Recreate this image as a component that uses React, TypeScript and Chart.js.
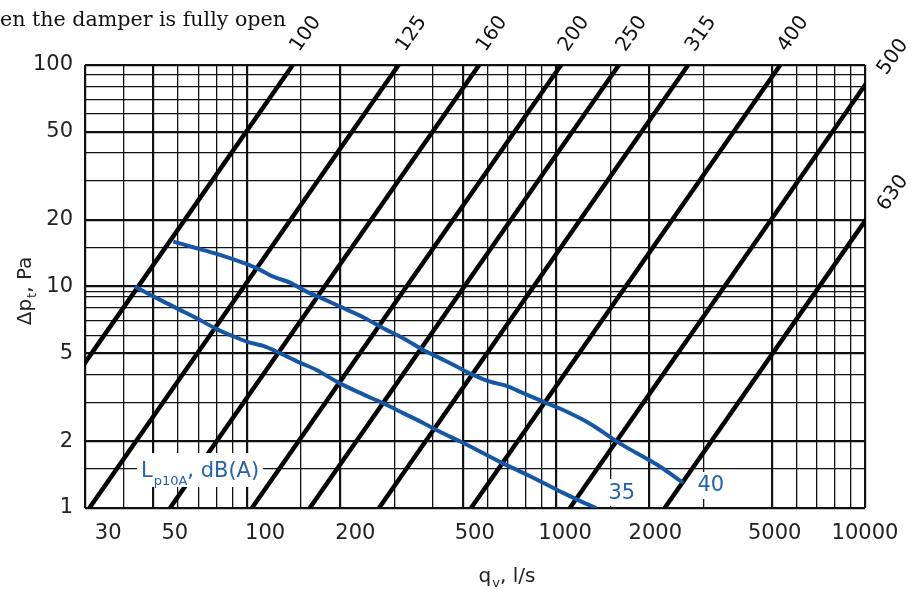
import React, { useEffect, useRef } from "react";
import { Chart, registerables } from "chart.js";

Chart.register(...registerables);

// ---------- data ----------
const DUCT_SIZES = ["100", "125", "160", "200", "250", "315", "400", "500", "630"];
const DUCT_FLOW_AT_1PA = [14.1, 31.0, 56.5, 104, 160, 268, 532, 1110, 2250];
const DUCT_FLOW_AT_100PA = [141, 310, 565, 1040, 1600, 2680, 5320, 11100, 22500];

const CURVE_35_FLOW = [43.5, 51.2, 60.9, 68.9, 80, 88.3, 100, 113.2, 128.1, 148.7, 168.4, 195.4, 226.8, 276.4, 320.8, 372.4, 421.7, 489.4, 568, 675, 784, 910, 1056, 1225, 1350];
const CURVE_35_DP = [10.0, 8.86, 7.84, 7.19, 6.42, 6.05, 5.64, 5.39, 5.0, 4.53, 4.2, 3.72, 3.36, 2.97, 2.68, 2.42, 2.21, 2.0, 1.8, 1.59, 1.44, 1.3, 1.17, 1.06, 1.0];

const CURVE_40_FLOW = [57.9, 68.9, 80, 95.1, 107.7, 121.9, 138, 156.3, 176.9, 200.3, 238.2, 276.4, 320.8, 372.4, 421.7, 477.6, 540, 612, 693, 784, 910, 1056, 1225, 1388, 1571, 1824, 2169, 2580];
const CURVE_40_DP = [15.95, 14.89, 14.03, 12.95, 12.1, 11.08, 10.41, 9.48, 8.79, 8.12, 7.27, 6.48, 5.84, 5.17, 4.75, 4.35, 3.99, 3.72, 3.56, 3.3, 3.02, 2.77, 2.5, 2.25, 2.0, 1.77, 1.54, 1.3];

const LEVEL_LABELS = ["35", "40"];
const LEVEL_LABEL_FLOW = [1635, 3170];
const LEVEL_LABEL_DP = [1.18, 1.27];

const X_GRID = [30, 40, 50, 60, 70, 80, 90, 100, 150, 200, 300, 400, 500, 600, 700, 800, 900, 1000, 1500, 2000, 3000, 5000, 6000, 7000, 8000, 9000, 10000];
const X_MAJOR = [30, 50, 100, 200, 500, 1000, 2000, 5000, 10000];
const X_TICK_LABELS = ["30", "50", "100", "200", "500", "1000", "2000", "5000", "10000"];

const Y_GRID = [1, 1.5, 2, 3, 4, 5, 6, 7, 8, 9, 9.5, 10, 15, 20, 30, 40, 50, 60, 70, 80, 90, 100];
const Y_MAJOR = [1, 2, 5, 10, 20, 50, 100];
const Y_TICK_LABELS = ["1", "2", "5", "10", "20", "50", "100"];

// ---------- styles ----------
const BLUE = "#1557a6";
const BLUE_TEXT = "#2462b0";
const GRID = "#111";
const SANS = '"DejaVu Sans", sans-serif';
const TICK_FONT = { family: SANS, size: 21 };

const annotations = {
  id: "annotations",
  afterDatasetsDraw(chart: any) {
    const { ctx, scales } = chart;
    const x = scales.x;
    const y = scales.y;
    ctx.save();
    // level labels 35 / 40
    ctx.font = `21px ${SANS}`;
    ctx.textAlign = "center";
    ctx.textBaseline = "middle";
    LEVEL_LABELS.forEach((t, i) => {
      const px = x.getPixelForValue(LEVEL_LABEL_FLOW[i]);
      const py = y.getPixelForValue(LEVEL_LABEL_DP[i]);
      const w = ctx.measureText(t).width;
      ctx.fillStyle = "#fff";
      ctx.fillRect(px - w / 2 - 4, py - 13, w + 8, 27);
      ctx.fillStyle = BLUE_TEXT;
      ctx.fillText(t, px, py + 1);
    });
    // L_p10A, dB(A)
    const lx = x.getPixelForValue(45.5);
    const ly = y.getPixelForValue(1.5);
    ctx.textAlign = "left";
    ctx.textBaseline = "alphabetic";
    ctx.font = `21px ${SANS}`;
    const wL = ctx.measureText("L").width;
    const wRest = ctx.measureText(", dB(A)").width;
    ctx.font = `13px ${SANS}`;
    const wSub = ctx.measureText("p10A").width;
    const total = wL + 1 + wSub + wRest;
    ctx.fillStyle = "#fff";
    ctx.fillRect(lx - 4, ly - 16, total + 8, 34);
    ctx.fillStyle = BLUE_TEXT;
    ctx.font = `21px ${SANS}`;
    ctx.fillText("L", lx, ly + 8);
    ctx.fillText(", dB(A)", lx + wL + 1 + wSub, ly + 8);
    ctx.font = `13px ${SANS}`;
    ctx.fillText("p10A", lx + wL + 1, ly + 16);
    ctx.restore();
  },
  afterDraw(chart: any) {
    const { ctx, scales, chartArea } = chart;
    const x = scales.x;
    const y = scales.y;
    ctx.save();
    // duct size labels
    ctx.fillStyle = "#111";
    ctx.font = `20px ${SANS}`;
    ctx.textAlign = "center";
    ctx.textBaseline = "middle";
    DUCT_SIZES.forEach((label, i) => {
      const qTop = DUCT_FLOW_AT_100PA[i];
      let px: number, py: number, dx: number, dy: number;
      if (qTop <= x.max) {
        px = x.getPixelForValue(qTop);
        py = chartArea.top;
        dx = 13;
        dy = -31;
      } else {
        const slope = 2 / Math.log10(DUCT_FLOW_AT_100PA[i] / DUCT_FLOW_AT_1PA[i]);
        const dpAtMax = 100 * Math.pow(x.max / qTop, slope);
        px = chartArea.right;
        py = y.getPixelForValue(dpAtMax);
        dx = 28;
        dy = -28;
      }
      ctx.save();
      ctx.translate(px + dx, py + dy);
      ctx.rotate((-55 * Math.PI) / 180);
      ctx.fillText(label, 0, 0);
      ctx.restore();
    });

    // axis titles with subscripts
    ctx.fillStyle = "#222";
    ctx.textBaseline = "alphabetic";
    ctx.textAlign = "left";
    const drawSub = (main: string, sub: string, rest: string, cx: number, base: number) => {
      ctx.font = `20px ${SANS}`;
      const w1 = ctx.measureText(main).width;
      const w3 = ctx.measureText(rest).width;
      ctx.font = `13px ${SANS}`;
      const w2 = ctx.measureText(sub).width;
      const start = cx - (w1 + w2 + w3 + 1) / 2;
      ctx.font = `20px ${SANS}`;
      ctx.fillText(main, start, base);
      ctx.fillText(rest, start + w1 + 1 + w2, base);
      ctx.font = `13px ${SANS}`;
      ctx.fillText(sub, start + w1 + 1, base + 5);
    };
    ctx.save();
    ctx.translate(30.5, 291);
    ctx.rotate(-Math.PI / 2);
    drawSub("Δp", "t", ", Pa", 0, 0);
    ctx.restore();

    drawSub("q", "v", ", l/s", 507, 582);

    // clipped heading text
    ctx.fillStyle = "#111";
    ctx.font = '20.6px "DejaVu Serif", serif';
    ctx.textAlign = "left";
    ctx.fillText("en the damper is fully open", 0, 26);
    ctx.restore();
  },
};

export default function App() {
  const canvasRef = useRef<HTMLCanvasElement | null>(null);

  useEffect(() => {
    if (!canvasRef.current) return;
    const gridWidth = (major: number[]) => (c: any) =>
      c.tick && major.includes(c.tick.value) ? 2.2 : 1.3;

    const ductDatasets = DUCT_SIZES.map((size, i) => ({
      label: `Ø${size}`,
      data: [
        { x: DUCT_FLOW_AT_1PA[i], y: 1 },
        { x: DUCT_FLOW_AT_100PA[i], y: 100 },
      ],
      borderColor: "#000",
      borderWidth: 4.5,
      pointRadius: 0,
      clip: 0,
      order: 2,
    }));

    const chart = new Chart(canvasRef.current, {
      type: "line",
      data: {
        datasets: [
          {
            label: "35 dB(A)",
            data: CURVE_35_FLOW.map((q, i) => ({ x: q, y: CURVE_35_DP[i] })),
            borderColor: BLUE,
            borderWidth: 4,
            pointRadius: 0,
            tension: 0.3,
            clip: 0,
            order: 0,
          },
          {
            label: "40 dB(A)",
            data: CURVE_40_FLOW.map((q, i) => ({ x: q, y: CURVE_40_DP[i] })),
            borderColor: BLUE,
            borderWidth: 4,
            pointRadius: 0,
            tension: 0.3,
            clip: 0,
            order: 0,
          },
          ...ductDatasets,
        ],
      },
      options: {
        animation: false,
        responsive: true,
        maintainAspectRatio: false,
        events: [],
        layout: { padding: { top: 65, right: 47, left: 0, bottom: 0 } },
        plugins: { legend: { display: false }, tooltip: { enabled: false } },
        scales: {
          x: {
            type: "logarithmic",
            position: "bottom",
            min: 30,
            max: 10000,
            afterBuildTicks: (s: any) => {
              s.ticks = X_GRID.map((v) => ({ value: v }));
            },
            afterFit: (s: any) => {
              s.height = 0;
            },
            ticks: { display: false, autoSkip: false },
            grid: { color: GRID, lineWidth: gridWidth(X_MAJOR), drawTicks: false },
            border: { display: false },
          },
          xLabels: {
            type: "logarithmic",
            position: "bottom",
            min: 25.1,
            max: 10000,
            afterBuildTicks: (s: any) => {
              s.ticks = X_MAJOR.map((v) => ({ value: v }));
            },
            afterFit: (s: any) => {
              s.height = 82;
            },
            ticks: {
              autoSkip: false,
              maxRotation: 0,
              padding: 13,
              color: "#222",
              font: TICK_FONT,
              callback: (v: any) => X_TICK_LABELS[X_MAJOR.indexOf(Number(v))] ?? "",
            },
            grid: { display: false, drawTicks: false },
            border: { display: false },
          },
          y: {
            type: "logarithmic",
            min: 1,
            max: 100,
            afterBuildTicks: (s: any) => {
              s.ticks = Y_GRID.map((v) => ({ value: v }));
            },
            afterFit: (s: any) => {
              s.width = 85;
            },
            ticks: {
              autoSkip: false,
              padding: 12,
              color: "#222",
              font: TICK_FONT,
              callback: (v: any) => Y_TICK_LABELS[Y_MAJOR.indexOf(Number(v))] ?? "",
            },
            grid: { color: GRID, lineWidth: gridWidth(Y_MAJOR), drawTicks: false },
            border: { display: false },
          },
        },
      },
      plugins: [annotations],
    } as any);

    return () => chart.destroy();
  }, []);

  return (
    <div style={{ position: "absolute", left: 0, top: 0, width: 912, height: 590, background: "#fff" }}>
      <canvas ref={canvasRef} />
    </div>
  );
}
